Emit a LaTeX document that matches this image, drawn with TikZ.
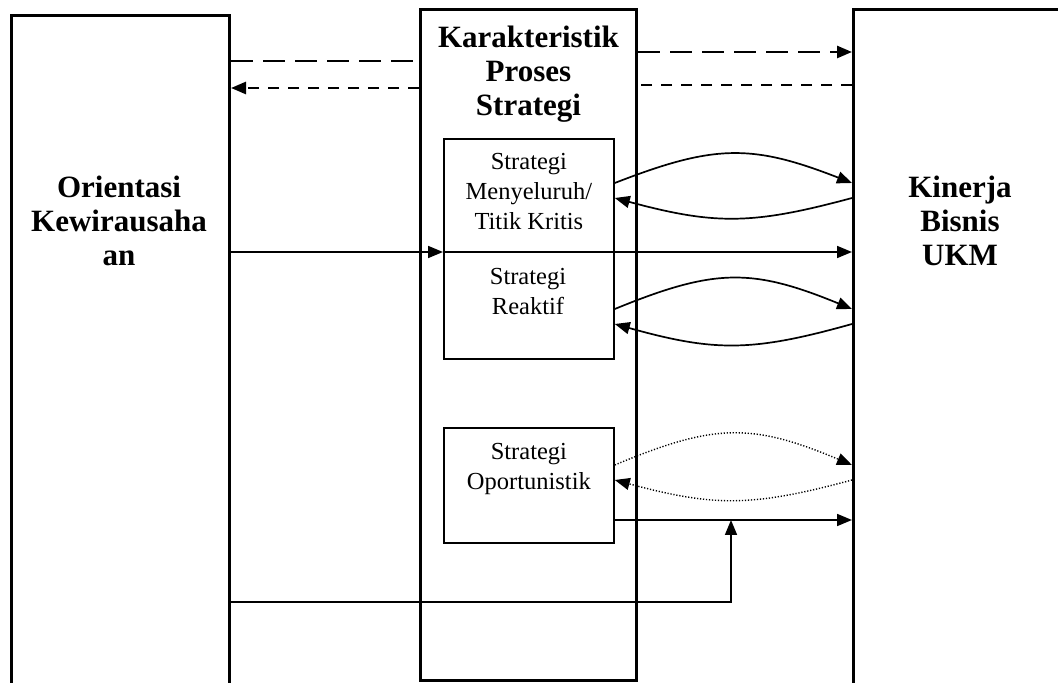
\documentclass[tikz,border=0pt]{standalone}
\usepackage{fontspec}
\setmainfont{Liberation Serif}
\usetikzlibrary{positioning,arrows.meta}

\begin{document}
\begin{tikzpicture}[
  x=1pt, y=1pt,
  font=\fontsize{24.5}{30}\selectfont,
  bigbox/.style={draw, line width=3pt, anchor=north west, inner sep=0pt},
  stratbox/.style={draw, line width=1.8pt, minimum width=170pt, anchor=north west, inner sep=0pt},
  head/.style={font=\bfseries\fontsize{31}{34}\selectfont, align=center, inner sep=0pt},
  txt/.style={align=center, inner sep=0pt},
  arr/.style={-{Triangle[length=15pt,width=12pt]}, line width=1.7pt},
  longdash/.style={dash pattern=on 22pt off 10pt, line width=2.6pt},
  shortdash/.style={dash pattern=on 11pt off 9pt, line width=2.6pt},
  dots/.style={dash pattern=on 1.2pt off 1.8pt, line width=1.4pt}
]
\useasboundingbox (0,0) rectangle (1058,683);
\clip (0,0) rectangle (1058,683);

% columns
\node[bigbox, minimum width=218pt, minimum height=700pt] (lbox) at (10,669) {};
\node[bigbox, minimum width=216pt, minimum height=671pt] (mbox) at (419,675) {};
\node[bigbox, minimum width=260pt, minimum height=700pt] (rbox) at (852,675) {};
\node[head] (ltitle) at (119,462) {Orientasi\\Kewirausaha\\an};
\node[head, below=18pt of mbox.north] (mtitle) {Karakteristik\\Proses\\Strategi};
\node[head] (rtitle) at (960,462) {Kinerja\\Bisnis\\UKM};

% strategi boxes
\node[stratbox, minimum height=220pt] (sbox) at (443,545) {};
\node[stratbox, minimum height=115pt] (obox) at (443,256) {};
\node[txt, below=15pt of sbox.north] (tmeny) {Strategi\\Menyeluruh/\\Titik Kritis};
\node[txt] (treak) at (528,391) {Strategi\\Reaktif};
\node[txt, below=16pt of obox.north] (topp) {Strategi\\Oportunistik};

% levels of the connectors
\coordinate (d1) at (0,622);
\coordinate (d2) at (0,631);
\coordinate (d3) at (0,598);
\coordinate (d4) at (0,595);
\coordinate (h1) at (0,431);
\coordinate (h2) at (0,163);
\coordinate (h3) at (0,81);
\coordinate (m1) at (0,500);
\coordinate (m2) at (0,485);
\coordinate (r1) at (0,374);
\coordinate (r2) at (0,359);
\coordinate (o1) at (0,218);
\coordinate (o2) at (0,203);
\coordinate (jn) at (731,163);

\draw[longdash] (lbox.east |- d1) -- (mbox.west |- d1);
\draw[arr, longdash] (mbox.east |- d2) -- (rbox.west |- d2);
\draw[shortdash] (rbox.west |- d3) -- (mbox.east |- d3);
\draw[arr, shortdash] (mbox.west |- d4) -- (lbox.east |- d4);

\draw[arr] (lbox.east |- h1) -- (sbox.west |- h1);
\draw[arr] (sbox.west |- h1) -- (rbox.west |- h1);

\draw[arr] (sbox.east |- m1) .. controls +(100,39) and +(-100,39) .. (rbox.west |- m1);
\draw[arr] (rbox.west |- m2) .. controls +(-100,-27) and +(100,-27) .. (sbox.east |- m2);
\draw[arr] (sbox.east |- r1) .. controls +(100,41) and +(-100,41) .. (rbox.west |- r1);
\draw[arr] (rbox.west |- r2) .. controls +(-100,-28) and +(100,-28) .. (sbox.east |- r2);
\draw[arr, dots] (obox.east |- o1) .. controls +(100,42) and +(-100,42) .. (rbox.west |- o1);
\draw[arr, dots] (rbox.west |- o2) .. controls +(-100,-27) and +(100,-27) .. (obox.east |- o2);

\draw[arr] (obox.east |- h2) -- (rbox.west |- h2);
\draw[arr] (lbox.east |- h3) -| (jn);
\end{tikzpicture}
\end{document}
